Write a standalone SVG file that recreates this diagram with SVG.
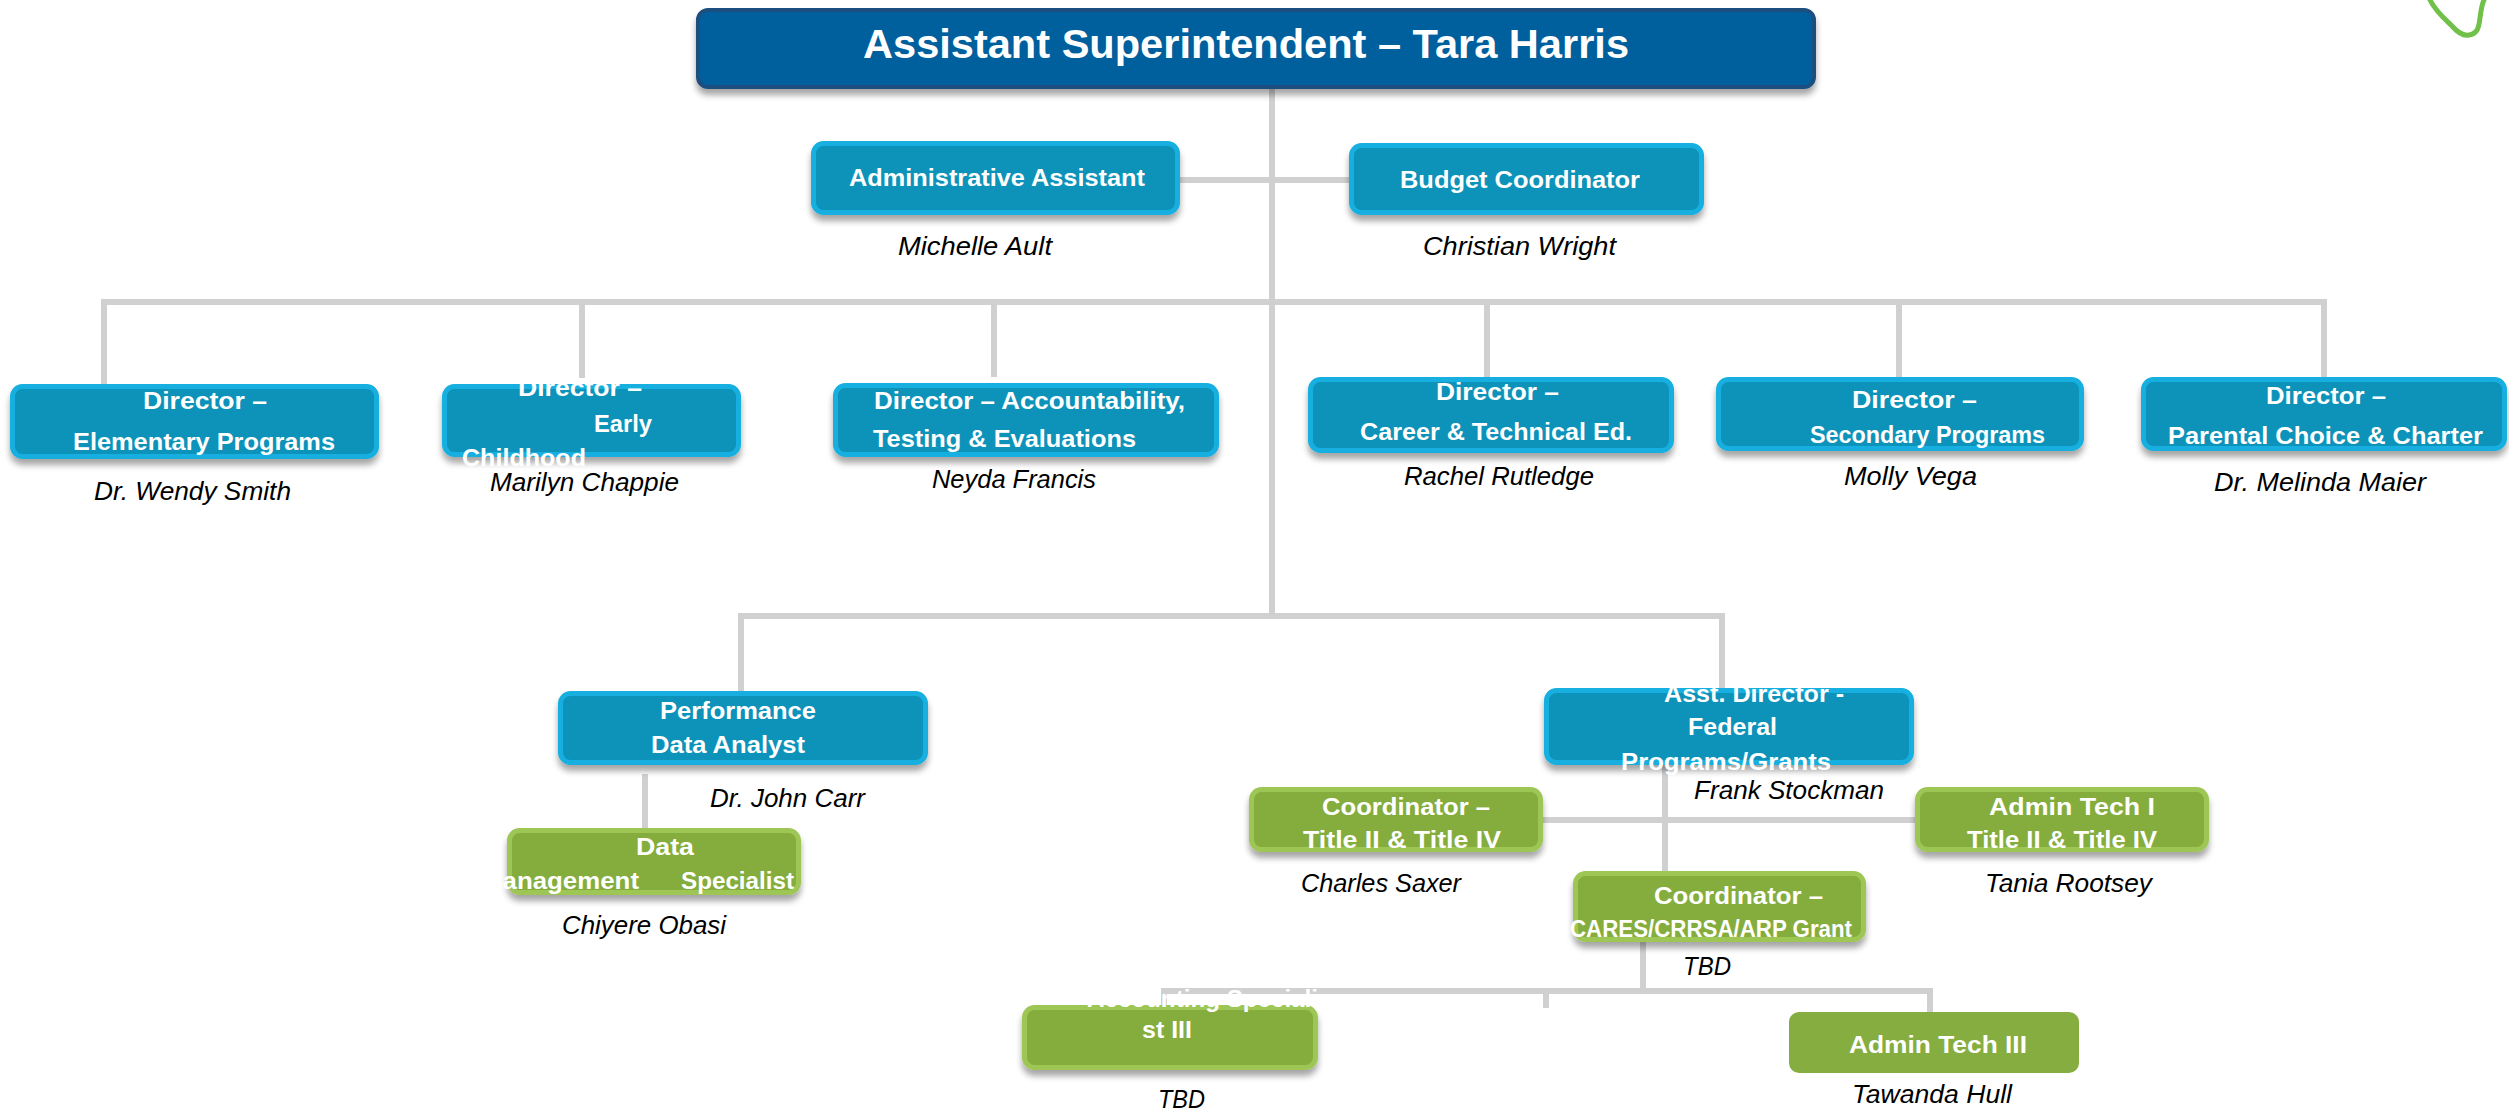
<svg xmlns="http://www.w3.org/2000/svg" width="2509" height="1117" viewBox="0 0 2509 1117">
<defs>
<style>
.bg{fill:#ffffff}
.ln{stroke:#d0d0d0;stroke-width:6;fill:none;stroke-linecap:butt}
.top{fill:#035f9d;stroke:#1d4f80;stroke-width:4}
.blue{fill:#0a93b9;stroke:#14afdf;stroke-width:5}
.green{fill:#85ad3e;stroke:#9dc655;stroke-width:5}
.flat{fill:#86ad3f}
.title{font-family:"Liberation Sans",Arial,sans-serif;font-weight:bold;font-size:41px;fill:#ffffff}
.lb{font-family:"Liberation Sans",Arial,sans-serif;font-weight:bold;font-size:24px;fill:#ffffff}
.nm{font-family:"Liberation Sans",Arial,sans-serif;font-style:italic;font-size:26px;fill:#000000}
.deco{fill:none;stroke:#70c04a;stroke-width:5;stroke-linecap:round}
</style>
<filter id="sh" x="-10%" y="-20%" width="120%" height="170%">
<feDropShadow dx="0" dy="6" stdDeviation="3" flood-color="#000000" flood-opacity="0.35"/>
</filter>
</defs>
<rect class="bg" x="0" y="0" width="2509" height="1117"/>
<path class="deco" d="M2430,0 C2436,12 2446,20 2452,26 C2458,33 2463,36 2469,35 C2478,34 2479,26 2480,18 C2481,10 2482,4 2484,0"/>

<g id="connectors">
<line class="ln" x1="1272" y1="89" x2="1272" y2="613"/>
<line class="ln" x1="1180" y1="180" x2="1349" y2="180"/>
<line class="ln" x1="101" y1="302" x2="2327" y2="302"/>
<line class="ln" x1="104" y1="302" x2="104" y2="385"/>
<line class="ln" x1="582" y1="302" x2="582" y2="378"/>
<line class="ln" x1="994" y1="302" x2="994" y2="377"/>
<line class="ln" x1="1487" y1="302" x2="1487" y2="378"/>
<line class="ln" x1="1899" y1="302" x2="1899" y2="378"/>
<line class="ln" x1="2324" y1="302" x2="2324" y2="378"/>
<line class="ln" x1="738" y1="616" x2="1725" y2="616"/>
<line class="ln" x1="741" y1="616" x2="741" y2="692"/>
<line class="ln" x1="1722" y1="616" x2="1722" y2="689"/>
<line class="ln" x1="645" y1="774" x2="645" y2="829"/>
<line class="ln" x1="1665" y1="765" x2="1665" y2="872"/>
<line class="ln" x1="1543" y1="820" x2="1915" y2="820"/>
<line class="ln" x1="1643" y1="942" x2="1643" y2="991"/>
<line class="ln" x1="1161" y1="991" x2="1933" y2="991"/>
<line class="ln" x1="1164" y1="991" x2="1164" y2="1006"/>
<line class="ln" x1="1546" y1="991" x2="1546" y2="1008"/>
<line class="ln" x1="1930" y1="991" x2="1930" y2="1013"/>
</g>

<g id="n-asst-super">
<rect class="top" x="698" y="10" width="1116" height="77" rx="10" filter="url(#sh)"/>
<text class="title" x="863" y="58" textLength="766" lengthAdjust="spacingAndGlyphs">Assistant Superintendent – Tara Harris</text>
</g>

<g id="n-admin-assistant">
<rect class="blue" x="813.5" y="143.5" width="364" height="69" rx="10" filter="url(#sh)"/>
<text class="lb" x="849" y="186" textLength="296" lengthAdjust="spacingAndGlyphs">Administrative Assistant</text>
<text class="nm" x="898" y="255" textLength="154" lengthAdjust="spacingAndGlyphs">Michelle Ault</text>
</g>

<g id="n-budget">
<rect class="blue" x="1351.5" y="145.5" width="350" height="67" rx="10" filter="url(#sh)"/>
<text class="lb" x="1400" y="188" textLength="240" lengthAdjust="spacingAndGlyphs">Budget Coordinator</text>
<text class="nm" x="1423" y="255" textLength="193" lengthAdjust="spacingAndGlyphs">Christian Wright</text>
</g>

<g id="n-elementary">
<rect class="blue" x="12.5" y="386.5" width="364" height="70" rx="10" filter="url(#sh)"/>
<text class="lb" x="143" y="409" textLength="124" lengthAdjust="spacingAndGlyphs">Director –</text>
<text class="lb" x="73" y="450" textLength="262" lengthAdjust="spacingAndGlyphs">Elementary Programs</text>
<text class="nm" x="94" y="500" textLength="197" lengthAdjust="spacingAndGlyphs">Dr. Wendy Smith</text>
</g>

<g id="n-early">
<rect class="blue" x="444.5" y="386.5" width="294" height="68" rx="10" filter="url(#sh)"/>
<text class="lb" x="518" y="396" textLength="124" lengthAdjust="spacingAndGlyphs">Director –</text>
<text class="lb" x="594" y="432" textLength="58" lengthAdjust="spacingAndGlyphs">Early</text>
<text class="lb" x="462" y="466" textLength="124" lengthAdjust="spacingAndGlyphs">Childhood</text>
<text class="nm" x="490" y="491" textLength="189" lengthAdjust="spacingAndGlyphs">Marilyn Chappie</text>
</g>

<g id="n-accountability">
<rect class="blue" x="835.5" y="385.5" width="381" height="69" rx="10" filter="url(#sh)"/>
<text class="lb" x="874" y="409" textLength="311" lengthAdjust="spacingAndGlyphs">Director – Accountability,</text>
<text class="lb" x="873" y="447" textLength="263" lengthAdjust="spacingAndGlyphs">Testing &amp; Evaluations</text>
<text class="nm" x="932" y="488" textLength="164" lengthAdjust="spacingAndGlyphs">Neyda Francis</text>
</g>

<g id="n-career">
<rect class="blue" x="1310.5" y="379.5" width="361" height="71" rx="10" filter="url(#sh)"/>
<text class="lb" x="1436" y="400" textLength="123" lengthAdjust="spacingAndGlyphs">Director –</text>
<text class="lb" x="1360" y="440" textLength="272" lengthAdjust="spacingAndGlyphs">Career &amp; Technical Ed.</text>
<text class="nm" x="1404" y="485" textLength="190" lengthAdjust="spacingAndGlyphs">Rachel Rutledge</text>
</g>

<g id="n-secondary">
<rect class="blue" x="1718.5" y="379.5" width="363" height="69" rx="10" filter="url(#sh)"/>
<text class="lb" x="1852" y="408" textLength="125" lengthAdjust="spacingAndGlyphs">Director –</text>
<text class="lb" x="1810" y="443" textLength="235" lengthAdjust="spacingAndGlyphs">Secondary Programs</text>
<text class="nm" x="1844" y="485" textLength="133" lengthAdjust="spacingAndGlyphs">Molly Vega</text>
</g>

<g id="n-parental">
<rect class="blue" x="2143.5" y="379.5" width="361" height="69" rx="10" filter="url(#sh)"/>
<text class="lb" x="2266" y="404" textLength="120" lengthAdjust="spacingAndGlyphs">Director –</text>
<text class="lb" x="2168" y="444" textLength="315" lengthAdjust="spacingAndGlyphs">Parental Choice &amp; Charter</text>
<text class="nm" x="2214" y="491" textLength="212" lengthAdjust="spacingAndGlyphs">Dr. Melinda Maier</text>
</g>

<g id="n-performance">
<rect class="blue" x="560.5" y="693.5" width="365" height="69" rx="10" filter="url(#sh)"/>
<text class="lb" x="660" y="719" textLength="156" lengthAdjust="spacingAndGlyphs">Performance</text>
<text class="lb" x="651" y="753" textLength="154" lengthAdjust="spacingAndGlyphs">Data Analyst</text>
<text class="nm" x="710" y="807" textLength="155" lengthAdjust="spacingAndGlyphs">Dr. John Carr</text>
</g>

<g id="n-data-mgmt">
<rect class="green" x="509.5" y="830.5" width="289" height="62" rx="10" filter="url(#sh)"/>
<text class="lb" x="636" y="855" textLength="58" lengthAdjust="spacingAndGlyphs">Data</text>
<text class="lb" x="481" y="889" textLength="158" lengthAdjust="spacingAndGlyphs">Management</text>
<text class="lb" x="681" y="889" textLength="113" lengthAdjust="spacingAndGlyphs">Specialist</text>
<text class="nm" x="562" y="934" textLength="164" lengthAdjust="spacingAndGlyphs">Chiyere  Obasi</text>
</g>

<g id="n-asst-director">
<rect class="blue" x="1546.5" y="690.5" width="365" height="72" rx="10" filter="url(#sh)"/>
<text class="lb" x="1664" y="702" textLength="180" lengthAdjust="spacingAndGlyphs">Asst. Director -</text>
<text class="lb" x="1688" y="735" textLength="89" lengthAdjust="spacingAndGlyphs">Federal</text>
<text class="lb" x="1621" y="770" textLength="210" lengthAdjust="spacingAndGlyphs">Programs/Grants</text>
<text class="nm" x="1694" y="799" textLength="190" lengthAdjust="spacingAndGlyphs">Frank Stockman</text>
</g>

<g id="n-coord-title">
<rect class="green" x="1251.5" y="789.5" width="289" height="60" rx="10" filter="url(#sh)"/>
<text class="lb" x="1322" y="815" textLength="168" lengthAdjust="spacingAndGlyphs">Coordinator –</text>
<text class="lb" x="1303" y="848" textLength="198" lengthAdjust="spacingAndGlyphs">Title II &amp; Title IV</text>
<text class="nm" x="1301" y="892" textLength="160" lengthAdjust="spacingAndGlyphs">Charles Saxer</text>
</g>

<g id="n-admin-tech-1">
<rect class="green" x="1917.5" y="789.5" width="289" height="60" rx="10" filter="url(#sh)"/>
<text class="lb" x="1989" y="815" textLength="166" lengthAdjust="spacingAndGlyphs">Admin Tech  I</text>
<text class="lb" x="1967" y="848" textLength="190" lengthAdjust="spacingAndGlyphs">Title II &amp; Title IV</text>
<text class="nm" x="1985" y="892" textLength="167" lengthAdjust="spacingAndGlyphs">Tania Rootsey</text>
</g>

<g id="n-cares">
<rect class="green" x="1575.5" y="873.5" width="288" height="66" rx="10" filter="url(#sh)"/>
<text class="lb" x="1654" y="904" textLength="169" lengthAdjust="spacingAndGlyphs">Coordinator –</text>
<text class="lb" x="1570" y="937" textLength="282" lengthAdjust="spacingAndGlyphs">CARES/CRRSA/ARP Grant</text>
<text class="nm" x="1683" y="975" textLength="48" lengthAdjust="spacingAndGlyphs">TBD</text>
</g>

<g id="n-accounting">
<rect class="green" x="1024.5" y="1007.5" width="291" height="60" rx="10" filter="url(#sh)"/>
<text class="lb" x="1087" y="1007" textLength="231" lengthAdjust="spacingAndGlyphs">Accounting Speciali</text>
<text class="lb" x="1142" y="1038" textLength="50" lengthAdjust="spacingAndGlyphs">st III</text>
<text class="nm" x="1158" y="1108" textLength="47" lengthAdjust="spacingAndGlyphs">TBD</text>
</g>

<g id="n-admin-tech-3">
<rect class="flat" x="1789" y="1012" width="290" height="61" rx="10"/>
<text class="lb" x="1849" y="1053" textLength="178" lengthAdjust="spacingAndGlyphs">Admin Tech  III</text>
<text class="nm" x="1852" y="1103" textLength="160" lengthAdjust="spacingAndGlyphs">Tawanda Hull</text>
</g>
</svg>
